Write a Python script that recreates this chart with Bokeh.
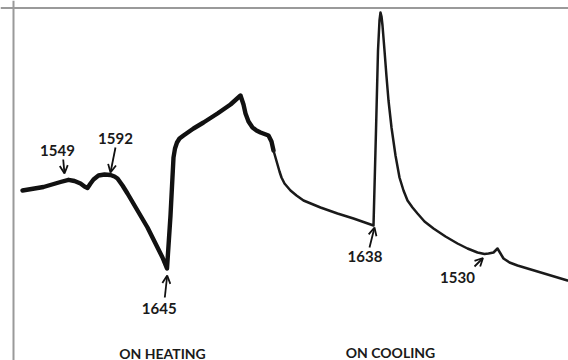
from bokeh.plotting import figure
from bokeh.models import Range1d, Arrow, OpenHead, Span, ColumnDataSource
from bokeh.core.properties import value
from bokeh.embed import file_html
from bokeh.resources import INLINE

# Heating trace (arbitrary units; y grows downward)
heat_x = [22, 43, 60, 68, 74, 80, 84, 87, 90, 93, 98, 104, 110, 114, 117, 122, 127, 137, 147,
          157, 162, 166.5, 170, 173, 174.5, 176.5, 179, 183, 193, 203, 217, 230, 240, 243,
          245, 248, 252, 256, 260, 268, 271, 273]
heat_y = [190, 186.5, 181.5, 179.3, 180.5, 183, 186, 187.5, 183, 179, 175, 174, 174.5, 176,
          178, 185, 193, 210, 227, 247, 257, 268, 215, 157, 148, 142, 138, 135, 128, 122,
          113, 104, 95, 104, 113, 121, 127, 130, 132, 135, 141, 150]

# Cooling trace
cool_x = [273, 275, 277, 279, 281, 284, 290, 296, 303, 320, 337, 353, 373, 375.5, 377.5,
          379, 380, 381, 382, 384, 386, 388, 391, 395, 399, 403, 407, 412, 417, 424, 433,
          445, 457, 467, 477, 484, 488, 493, 497, 500, 503, 509, 517, 537, 567]
cool_y = [150, 157, 164, 171, 177, 183, 190, 195, 200, 207, 213, 218, 225, 130, 50, 20, 12,
          16, 25, 50, 76, 100, 127, 155, 177, 190, 200, 207, 213, 221, 228, 236, 243, 248,
          252, 253.5, 253, 252, 248, 253, 258, 262, 265, 271, 280]

# Annotated transitions
peak_labels = ["1549", "1592", "1645", "1638", "1530"]
peak_x = [64, 110, 166.7, 374, 482.5]
peak_y = [173, 172, 275, 227, 257.5]

section_labels = ["ON HEATING", "ON COOLING"]

# layout (positions of labels / arrow tails)
arrow_tail = [(62.7, 159), (115, 147), (164.3, 297), (369, 247), (474, 266)]
label_pos = [(57, 149.5), (115, 137.5), (158.7, 307.5), (364.5, 256), (457, 276.5)]
section_pos = [(162, 352.5), (390, 351.5)]

FONT = value("Lato")

p = figure(width=568, height=360, output_backend="svg", toolbar_location=None,
           x_range=Range1d(0, 568), y_range=Range1d(360, 0),
           min_border=0, min_border_left=0, min_border_right=0,
           min_border_top=0, min_border_bottom=0)
p.axis.visible = False
p.grid.visible = False
p.outline_line_color = None
p.background_fill_color = "white"
p.border_fill_color = "white"

# frame lines
p.add_layout(Span(location=13, dimension="height", line_color="#9a9a9a", line_width=2))
p.add_layout(Span(location=7.5, dimension="width", line_color="#9a9a9a", line_width=2))

p.line(heat_x, heat_y, line_color="#111111", line_width=4.4,
       line_join="round", line_cap="round")
p.line(cool_x, cool_y, line_color="#1a1a1a", line_width=2.5,
       line_join="round", line_cap="round")

for (tx, ty), ex, ey in zip(arrow_tail, peak_x, peak_y):
    p.add_layout(Arrow(end=OpenHead(size=8, line_width=1.8, line_color="#111111"),
                       x_start=tx, y_start=ty, x_end=ex, y_end=ey,
                       line_width=1.8, line_color="#111111"))

src = ColumnDataSource(dict(x=[lp[0] for lp in label_pos], y=[lp[1] for lp in label_pos],
                            t=peak_labels))
p.text(x="x", y="y", text="t", source=src, text_font=FONT, text_font_style="bold",
       text_font_size="15px", text_align="center", text_baseline="middle",
       text_color="#1a1a1a")

src2 = ColumnDataSource(dict(x=[sp[0] for sp in section_pos], y=[sp[1] for sp in section_pos],
                             t=section_labels))
p.text(x="x", y="y", text="t", source=src2, text_font=FONT, text_font_style="bold",
       text_font_size="14px", text_align="center", text_baseline="middle",
       text_color="#1a1a1a")

open("out.html", "w").write(file_html(p, INLINE))
